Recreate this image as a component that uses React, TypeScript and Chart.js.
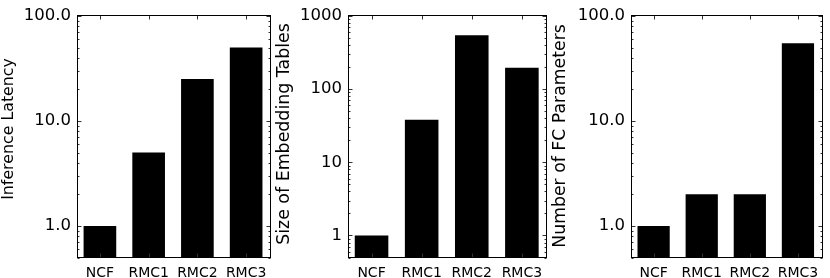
import React, { useEffect, useRef } from 'react';
import { Chart, registerables } from 'chart.js';

Chart.register(...registerables);

const categories = ['NCF', 'RMC1', 'RMC2', 'RMC3'];
const latencyValues = [1.0, 5.0, 25, 50];
const embeddingValues = [1, 38, 545, 195];
const fcParamValues = [1, 2, 2, 55];

const tickValuesDecimal = [1, 10, 100];
const tickLabelsDecimal = ['1.0', '10.0', '100.0'];
const tickValuesInt = [1, 10, 100, 1000];
const tickLabelsInt = ['1', '10', '100', '1000'];

const titleLatency = 'Inference Latency';
const titleEmbedding = 'Size of Embedding Tables';
const titleFc = 'Number of FC Parameters';

const FONT = "'DejaVu Sans', sans-serif";

type Panel = {
  left: number;
  width: number;
  yAxisWidth: number;
  rightPad: number;
  yMin: number;
  yMax: number;
  values: number[];
  tickValues: number[];
  tickLabels: string[];
  title: string;
  titleX: number;
  titleY: number;
  titleSize: number;
};

const panels: Panel[] = [
  { left: 0, width: 274, yAxisWidth: 77, rightPad: 1, yMin: 0.5, yMax: 100, values: latencyValues, tickValues: tickValuesDecimal, tickLabels: tickLabelsDecimal, title: titleLatency, titleX: 9, titleY: 129, titleSize: 15.8 },
  { left: 274, width: 276, yAxisWidth: 74, rightPad: 3, yMin: 0.5, yMax: 1000, values: embeddingValues, tickValues: tickValuesInt, tickLabels: tickLabelsInt, title: titleEmbedding, titleX: 10, titleY: 134, titleSize: 17.4 },
  { left: 550, width: 280, yAxisWidth: 81, rightPad: 8, yMin: 0.5, yMax: 100, values: fcParamValues, tickValues: tickValuesDecimal, tickLabels: tickLabelsDecimal, title: titleFc, titleX: 11, titleY: 136, titleSize: 17.3 },
];

const framePlugin = {
  id: 'frameTicks',
  afterDatasetsDraw(chart: any) {
    const { ctx, chartArea: a, scales } = chart;
    const xs = scales.x;
    const ys = scales.y;
    const L = Math.floor(a.left) + 0.5;
    const R = Math.floor(a.right) + 0.5;
    const T = Math.floor(a.top) + 0.5;
    const B = Math.floor(a.bottom) + 0.5;
    ctx.save();
    ctx.lineWidth = 1;
    ctx.strokeStyle = '#333';
    ctx.beginPath();
    const min = ys.min;
    const max = ys.max;
    const d0 = Math.floor(Math.log10(min));
    const d1 = Math.ceil(Math.log10(max));
    for (let d = d0; d <= d1; d++) {
      for (let k = 1; k <= 9; k++) {
        const v = k * Math.pow(10, d);
        if (v < min || v > max) continue;
        const py = Math.round(ys.getPixelForValue(v)) + 0.5;
        const len = k === 1 ? 4 : 2;
        ctx.moveTo(L, py); ctx.lineTo(L + len, py);
        ctx.moveTo(R, py); ctx.lineTo(R - len, py);
      }
    }
    for (let i = 0; i < categories.length; i++) {
      const px = Math.round(xs.getPixelForValue(i)) + 0.5;
      ctx.moveTo(px, B); ctx.lineTo(px, B - 4);
      ctx.moveTo(px, T); ctx.lineTo(px, T + 4);
    }
    ctx.stroke();
    ctx.strokeStyle = '#000';
    ctx.strokeRect(L, T, R - L, B - T);

    const opts = chart.options.plugins.yTitle;
    if (opts) {
      ctx.translate(opts.x, opts.y);
      ctx.rotate(-Math.PI / 2);
      ctx.fillStyle = '#000';
      ctx.font = `${opts.size}px ${FONT}`;
      ctx.textAlign = 'center';
      ctx.textBaseline = 'middle';
      ctx.fillText(opts.text, 0, 0);
    }
    ctx.restore();
  },
};

function PanelChart({ p }: { p: Panel }) {
  const ref = useRef<HTMLCanvasElement | null>(null);
  useEffect(() => {
    if (!ref.current) return;
    const chart = new Chart(ref.current, {
      type: 'bar',
      data: {
        datasets: [
          {
            data: p.values.map((v, i) => ({ x: i, y: v })),
            backgroundColor: '#000',
            borderColor: '#000',
            borderWidth: 0,
            categoryPercentage: 1,
            barPercentage: 0.67,
          } as any,
        ],
      },
      options: {
        animation: false,
        responsive: false,
        devicePixelRatio: 1,
        layout: { padding: { left: 0, right: p.rightPad, top: 15, bottom: 0 } },
        plugins: {
          legend: { display: false },
          tooltip: { enabled: false },
          title: { display: false },
          yTitle: { text: p.title, x: p.titleX, y: p.titleY, size: p.titleSize },
        },
        scales: {
          x: {
            type: 'linear',
            min: -0.47,
            max: 3.5,
            offset: false,
            afterBuildTicks: (ax: any) => {
              ax.ticks = categories.map((_, i) => ({ value: i }));
            },
            afterFit: (ax: any) => {
              ax.height = 20.5;
            },
            ticks: {
              autoSkip: false,
              maxRotation: 0,
              padding: 7.5,
              color: '#000',
              font: { family: FONT, size: 14 },
              callback: (v: any) => categories[v as number] ?? '',
            },
            grid: { display: false, drawTicks: false },
            border: { display: false },
          },
          y: {
            type: 'logarithmic',
            min: p.yMin,
            max: p.yMax,
            afterBuildTicks: (ax: any) => {
              ax.ticks = p.tickValues.map((v) => ({ value: v }));
            },
            afterFit: (ax: any) => {
              ax.width = p.yAxisWidth;
            },
            ticks: {
              autoSkip: false,
              padding: 6,
              color: '#000',
              font: { family: FONT, size: 16.5 },
              callback: (v: any) => {
                const idx = p.tickValues.indexOf(v as number);
                return idx >= 0 ? p.tickLabels[idx] : '';
              },
            },
            grid: { display: false, drawTicks: false },
            border: { display: false },
            title: { display: false },
          } as any,
        },
      } as any,
      plugins: [framePlugin],
    });
    return () => chart.destroy();
  }, [p]);
  return (
    <canvas
      ref={ref}
      width={p.width}
      height={278}
      style={{ position: 'absolute', left: p.left, top: 0, width: p.width, height: 278 }}
    />
  );
}

export default function App() {
  return (
    <div style={{ position: 'fixed', left: 0, top: 0, width: 830, height: 278, background: '#fff', overflow: 'hidden' }}>
      {panels.map((p, i) => (
        <PanelChart key={i} p={p} />
      ))}
    </div>
  );
}
